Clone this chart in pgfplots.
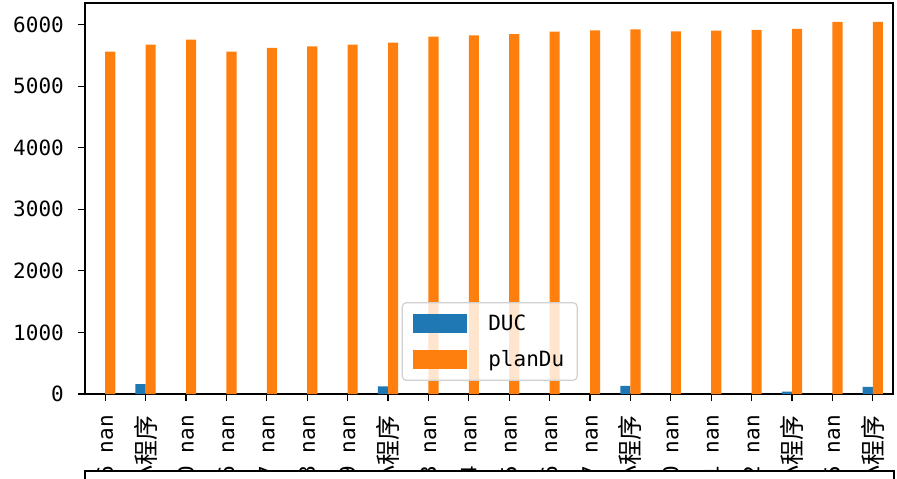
\documentclass[border=0pt]{standalone}
\usepackage{pgfplots}
\pgfplotsset{compat=1.18}
\usepackage{fontspec}
\setmainfont{DejaVu Sans Mono}
\newfontfamily\cjk{Noto Sans CJK SC}
\newcommand{\cj}[1]{{\cjk\fontsize{25bp}{29bp}\selectfont #1}}
\definecolor{c0}{HTML}{1F77B4}
\definecolor{c1}{HTML}{FF7F0E}
\begin{document}
\begin{tikzpicture}
\useasboundingbox (-85bp,-85bp) rectangle (812bp,394bp);
\begin{axis}[
  name=ax, at={(0,0)}, anchor=south west,
  scale only axis, width=808bp, height=391bp,
  xmin=-0.5, xmax=19.5, ymin=0, ymax=6350,
  xtick={0,...,19},
  xticklabels={6 nan,\cj{小程序},0 nan,6 nan,7 nan,8 nan,9 nan,\cj{小程序},3 nan,4 nan,5 nan,6 nan,7 nan,\cj{小程序},0 nan,1 nan,2 nan,\cj{小程序},5 nan,\cj{小程序}},
  xticklabel style={rotate=90, anchor=east, inner ysep=0pt, inner xsep=14bp, font=\fontsize{21bp}{25bp}\selectfont},
  ytick={0,1000,...,6000},
  yticklabel style={inner sep=0pt, xshift=-14bp, font=\fontsize{21bp}{25bp}\selectfont},
  /pgf/number format/assume math mode=true,
  /pgf/number format/1000 sep={},
  scaled y ticks=false,
  tick pos=left, tick align=outside, major tick length=7bp,
  tick style={black, line width=1.2bp},
  axis line style={line width=1.5bp},
  ybar, bar width=0.25,
  legend style={at={(0.392,0.235)}, anchor=north west, draw=black!18, rounded corners=4bp,
    fill=white, fill opacity=0.8, text opacity=1, line width=1.2bp,
    font=\fontsize{21bp}{25bp}\selectfont, row sep=15bp, inner xsep=11bp, inner ysep=10bp},
  legend cell align=left,
  legend image code/.code={\fill[#1, fill opacity=1, sharp corners] (0bp,-9.5bp) rectangle (54bp,9.5bp);},
]
\addplot[fill=c0, draw=none, bar shift=-0.125] coordinates {
  (1,160) (7,125) (13,130) (17,40) (19,115)
};
\addlegendentry{\hspace*{19bp}DUC}
\addplot[fill=c1, draw=none, bar shift=0.125] coordinates {
  (0,5560) (1,5675) (2,5755) (3,5560) (4,5620) (5,5645) (6,5675) (7,5705)
  (8,5805) (9,5825) (10,5845) (11,5885) (12,5905) (13,5920) (14,5890)
  (15,5900) (16,5915) (17,5930) (18,6045) (19,6045)
};
\addlegendentry{\hspace*{19bp}planDu}
\end{axis}
\draw[line width=1.5bp, fill=white] (ax.south west |- 0,-77bp) rectangle ([xshift=1bp]ax.south east |- 0,-300bp);
\end{tikzpicture}
\end{document}
